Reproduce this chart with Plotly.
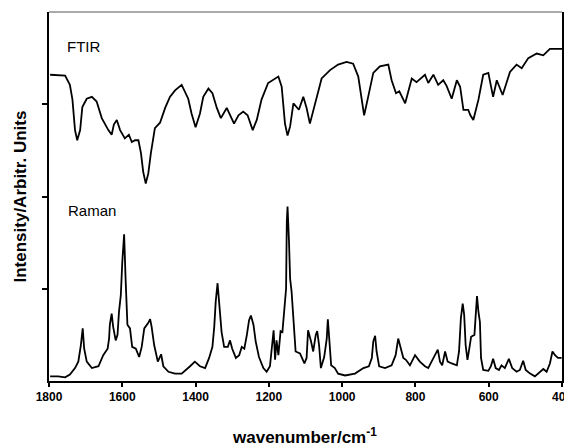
import plotly.graph_objects as go

# FTIR spectrum (wavenumber, intensity in arbitrary units)
ftir_wn = [1797, 1756, 1743, 1736, 1729, 1723, 1715, 1709, 1697, 1683, 1670, 1656, 1638, 1629, 1623, 1615,
           1606, 1593, 1582, 1574, 1565, 1556, 1549, 1543, 1536, 1529, 1522, 1511, 1497, 1483, 1470, 1456,
           1438, 1420, 1411, 1400, 1388, 1379, 1365, 1354, 1342, 1331, 1315, 1306, 1295, 1283, 1270, 1258,
           1244, 1233, 1220, 1202, 1174, 1165, 1156, 1149, 1142, 1133, 1124, 1118, 1106, 1097, 1088, 1074,
           1056, 1033, 1011, 988, 970, 956, 947, 940, 929, 915, 897, 874, 865, 853, 844, 828, 810, 797,
           774, 765, 751, 738, 724, 715, 701, 687, 678, 669, 656, 650, 642, 628, 615, 601, 588, 578, 562,
           542, 524, 510, 492, 469, 451, 433, 400]
ftir_int = [3.32, 3.31, 3.21, 3.05, 2.72, 2.61, 2.72, 2.97, 3.06, 3.08, 3.03, 2.85, 2.72, 2.67, 2.78, 2.83,
            2.72, 2.63, 2.67, 2.59, 2.61, 2.61, 2.47, 2.27, 2.14, 2.25, 2.47, 2.74, 2.80, 2.96, 3.08, 3.15,
            3.21, 3.06, 2.90, 2.75, 2.90, 3.08, 3.17, 3.12, 2.96, 2.85, 2.96, 2.88, 2.79, 2.88, 2.92, 2.88,
            2.72, 2.83, 3.05, 3.23, 3.30, 3.19, 2.79, 2.66, 2.76, 3.01, 2.97, 2.94, 3.08, 2.96, 2.79, 3.01,
            3.28, 3.37, 3.43, 3.46, 3.44, 3.30, 3.05, 2.88, 3.08, 3.34, 3.41, 3.43, 3.26, 3.12, 3.14, 3.01,
            3.28, 3.24, 3.32, 3.23, 3.32, 3.21, 3.26, 3.20, 3.06, 3.26, 3.19, 2.94, 2.94, 2.88, 2.83, 3.05,
            3.32, 3.34, 3.08, 3.26, 3.10, 3.35, 3.43, 3.39, 3.50, 3.55, 3.53, 3.60, 3.60]

# Raman spectrum
raman_wn = [1797, 1775, 1756, 1743, 1729, 1720, 1713, 1708, 1704, 1697, 1683, 1665, 1652, 1640, 1636, 1634,
            1629, 1625, 1618, 1613, 1609, 1604, 1600, 1595, 1591, 1586, 1579, 1573, 1563, 1554, 1547, 1540,
            1529, 1524, 1520, 1513, 1503, 1494, 1488, 1474, 1456, 1438, 1415, 1402, 1388, 1374, 1363, 1354,
            1349, 1345, 1340, 1335, 1329, 1322, 1312, 1306, 1300, 1290, 1281, 1274, 1267, 1260, 1254, 1249,
            1242, 1236, 1227, 1215, 1206, 1197, 1191, 1187, 1183, 1179, 1174, 1168, 1163, 1158, 1153, 1151,
            1149, 1145, 1142, 1138, 1133, 1127, 1115, 1103, 1097, 1093, 1085, 1079, 1072, 1068, 1063, 1058,
            1049, 1042, 1039, 1035, 1030, 1020, 1011, 992, 965, 942, 927, 919, 915, 910, 906, 899, 883, 865,
            854, 847, 840, 833, 826, 815, 801, 788, 774, 765, 756, 745, 739, 733, 727, 719, 712, 701, 687,
            681, 676, 671, 667, 663, 658, 653, 648, 639, 636, 632, 628, 624, 621, 615, 601, 594, 588, 581,
            572, 565, 556, 545, 536, 524, 515, 506, 499, 487, 474, 460, 451, 442, 433, 426, 419, 411, 401]
raman_int = [0.05, 0.05, 0.04, 0.07, 0.14, 0.21, 0.39, 0.57, 0.35, 0.21, 0.14, 0.16, 0.28, 0.35, 0.46, 0.61,
             0.73, 0.59, 0.44, 0.50, 0.75, 0.93, 1.29, 1.59, 1.11, 0.61, 0.57, 0.37, 0.35, 0.26, 0.37, 0.57,
             0.63, 0.67, 0.59, 0.39, 0.21, 0.29, 0.16, 0.10, 0.08, 0.08, 0.16, 0.21, 0.16, 0.14, 0.25, 0.37,
             0.59, 0.86, 1.06, 0.79, 0.53, 0.37, 0.37, 0.44, 0.35, 0.25, 0.28, 0.37, 0.35, 0.50, 0.66, 0.71,
             0.61, 0.43, 0.26, 0.14, 0.10, 0.16, 0.43, 0.55, 0.23, 0.44, 0.28, 0.54, 0.53, 0.75, 1.00, 1.73,
             1.89, 1.51, 1.11, 0.97, 0.64, 0.32, 0.30, 0.19, 0.25, 0.55, 0.43, 0.32, 0.50, 0.54, 0.39, 0.14,
             0.26, 0.46, 0.67, 0.43, 0.17, 0.14, 0.08, 0.06, 0.08, 0.14, 0.16, 0.25, 0.43, 0.49, 0.32, 0.16,
             0.14, 0.17, 0.28, 0.46, 0.35, 0.25, 0.23, 0.17, 0.28, 0.21, 0.16, 0.14, 0.21, 0.29, 0.34, 0.21,
             0.17, 0.32, 0.21, 0.19, 0.17, 0.32, 0.68, 0.84, 0.72, 0.39, 0.23, 0.35, 0.48, 0.50, 0.73, 0.92,
             0.75, 0.64, 0.25, 0.12, 0.11, 0.16, 0.24, 0.14, 0.12, 0.17, 0.14, 0.24, 0.14, 0.10, 0.12, 0.22,
             0.12, 0.08, 0.05, 0.10, 0.13, 0.10, 0.19, 0.32, 0.28, 0.25, 0.25]

x_ticks = [1800, 1600, 1400, 1200, 1000, 800, 600, 400]
y_ticks = [1, 2, 3]

fig = go.Figure()
fig.add_trace(go.Scatter(x=ftir_wn, y=ftir_int, mode="lines",
                         line=dict(color="black", width=1.8, shape="linear"), showlegend=False))
fig.add_trace(go.Scatter(x=raman_wn, y=raman_int, mode="lines",
                         line=dict(color="black", width=1.8, shape="linear"), showlegend=False))

# page body has an 8px margin, so the figure is sized/offset to compensate
fig.update_layout(
    width=564, height=440,
    margin=dict(l=41, r=10, t=4, b=67, autoexpand=False),
    paper_bgcolor="white", plot_bgcolor="white",
    font=dict(family="Liberation Sans, Arial, sans-serif", color="black"),
    xaxis=dict(range=[1800, 400], tickvals=x_ticks, ticktext=[str(v) for v in x_ticks],
               showgrid=False, zeroline=False, showline=True, linecolor="black", linewidth=2,
               ticks="outside", ticklen=4, tickwidth=1.5, tickcolor="black",
               tickfont=dict(size=12, weight="bold", color="black"), mirror=False, automargin=False,
               ticklabeloverflow="allow"),
    yaxis=dict(range=[0, 4], tickvals=y_ticks, showticklabels=False,
               showgrid=False, zeroline=False, showline=True, linecolor="black", linewidth=2,
               ticks="outside", ticklen=5, tickwidth=1.5, tickcolor="black", mirror=True,
               automargin=False),
    shapes=[dict(type="line", xref="paper", yref="paper", x0=0, x1=1, y0=1, y1=1,
                 line=dict(color="#555555", width=1))],
    annotations=[
        dict(text="FTIR", xref="paper", yref="paper", x=(65 - 49) / 513, y=(381 - 47) / 369,
             xanchor="left", yanchor="middle", showarrow=False, font=dict(size=15)),
        dict(text="Raman", xref="paper", yref="paper", x=(66 - 49) / 513, y=(381 - 210) / 369,
             xanchor="left", yanchor="middle", showarrow=False, font=dict(size=15)),
        dict(text="<b>Intensity/Arbitr. Units</b>", xref="paper", yref="paper",
             x=(20 - 49) / 513, y=0.5, textangle=-90, xanchor="center", yanchor="middle",
             showarrow=False, font=dict(size=17)),
        dict(text="<b>wavenumber/cm<sup>-1</sup></b>", xref="paper", yref="paper",
             x=(304 - 49) / 513, y=(381 - 436) / 369, xanchor="center", yanchor="middle",
             showarrow=False, font=dict(size=17)),
    ],
)

fig.write_html("out.html")
